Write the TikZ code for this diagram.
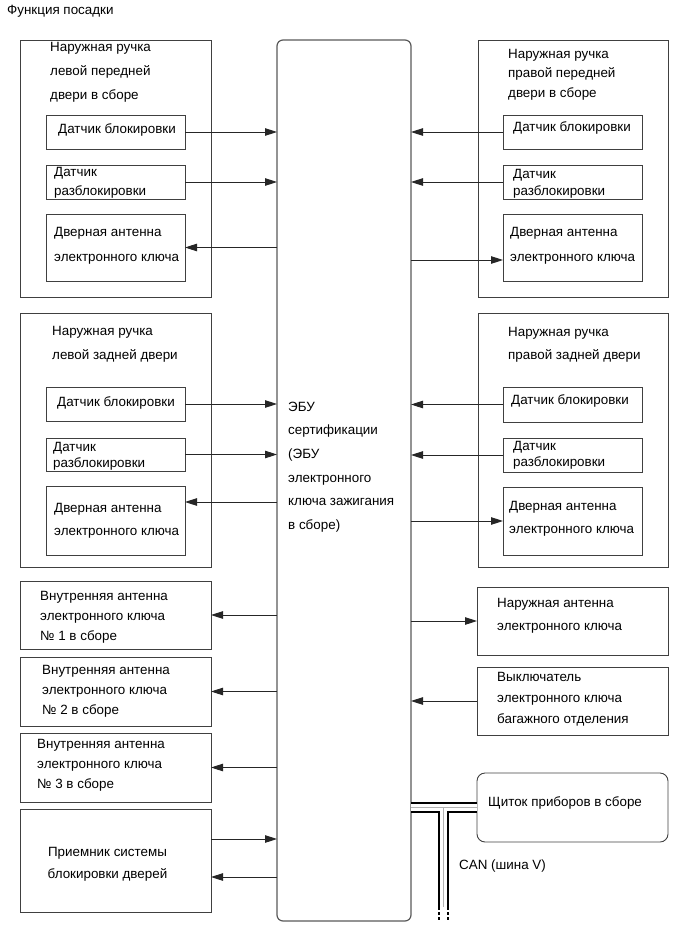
\documentclass[tikz,border=0pt]{standalone}
\usepackage{fontspec}
\setmainfont{Liberation Sans}
\usetikzlibrary{arrows.meta}

\begin{document}
\begin{tikzpicture}[x=1pt,y=-1pt,
    box/.style={draw=black!75,line width=0.9pt,inner sep=0,outer sep=0},
    lbl/.style={anchor=west,align=left,inner sep=0,font=\fontsize{13.4}{#1}\selectfont},
    lbl/.default=20,
    arr/.style={draw=black!85,line width=0.9pt,-{Triangle[length=12pt,width=7.5pt]}},
    can/.style={line width=2pt,double=white,double distance=7pt}]
        \useasboundingbox (0,0) rectangle (689,950);

        % Title
        \node[lbl] (title) at (7,11) {Функция посадки};

        % ECU
        \node[box,draw=black!65,line width=1.2pt,rounded corners=6pt,minimum width=134,minimum height=881] (ecu) at (344,480.5) {};
        \node[lbl=23.6] (t_ecu) at (288,467) {ЭБУ\\сертификации\\(ЭБУ\\электронного\\ключа зажигания\\в сборе)};

        % Left front door handle
        \node[box,minimum width=191,minimum height=257] (lfront) at (115.5,168.5) {};
        \node[box,minimum width=139,minimum height=34] (lf_lock) at (115.5,132) {};
        \node[box,minimum width=139,minimum height=34] (lf_unlock) at (115.5,182) {};
        \node[box,minimum width=139,minimum height=67] (lf_ant) at (115.5,247.5) {};
        \node[lbl=24] (t_lfront) at (50,72) {Наружная ручка\\левой передней\\двери в сборе};
        \node[lbl] (t_lf_lock) at (58,130) {Датчик блокировки};
        \node[lbl=19] (t_lf_unlock) at (54,182.5) {Датчик\\разблокировки};
        \node[lbl=25] (t_lf_ant) at (54,245.5) {Дверная антенна\\электронного ключа};

        % Right front door handle
        \node[box,minimum width=190,minimum height=257] (rfront) at (573,168.5) {};
        \node[box,minimum width=139,minimum height=34] (rf_lock) at (572.5,132) {};
        \node[box,minimum width=139,minimum height=34] (rf_unlock) at (572.5,182) {};
        \node[box,minimum width=139,minimum height=67] (rf_ant) at (572.5,247.5) {};
        \node[lbl=19.5] (t_rfront) at (508,74.5) {Наружная ручка\\правой передней\\двери в сборе};
        \node[lbl] (t_rf_lock) at (513,128) {Датчик блокировки};
        \node[lbl=17] (t_rf_unlock) at (513,183.5) {Датчик\\разблокировки};
        \node[lbl=25] (t_rf_ant) at (510,245.5) {Дверная антенна\\электронного ключа};

        % Left rear door handle
        \node[box,minimum width=191,minimum height=254] (lrear) at (115.5,440) {};
        \node[box,minimum width=139,minimum height=34] (lr_lock) at (115.5,404) {};
        \node[box,minimum width=139,minimum height=33] (lr_unlock) at (115.5,454.5) {};
        \node[box,minimum width=139,minimum height=69] (lr_ant) at (115.5,520.5) {};
        \node[lbl=24] (t_lrear) at (52,344) {Наружная ручка\\левой задней двери};
        \node[lbl] (t_lr_lock) at (57,403) {Датчик блокировки};
        \node[lbl=16] (t_lr_unlock) at (53,456) {Датчик\\разблокировки};
        \node[lbl=23] (t_lr_ant) at (54,520.5) {Дверная антенна\\электронного ключа};

        % Right rear door handle
        \node[box,minimum width=190,minimum height=254] (rrear) at (573,440) {};
        \node[box,minimum width=139,minimum height=35] (rr_lock) at (572.5,404.5) {};
        \node[box,minimum width=139,minimum height=34] (rr_unlock) at (572.5,455) {};
        \node[box,minimum width=139,minimum height=68] (rr_ant) at (572.5,521) {};
        \node[lbl=23] (t_rrear) at (508,344.5) {Наружная ручка\\правой задней двери};
        \node[lbl] (t_rr_lock) at (511,401) {Датчик блокировки};
        \node[lbl=16] (t_rr_unlock) at (513,455) {Датчик\\разблокировки};
        \node[lbl=23] (t_rr_ant) at (509,518.5) {Дверная антенна\\электронного ключа};

        % Inside antennas and receiver
        \node[box,minimum width=191,minimum height=68] (ant1) at (115.5,615) {};
        \node[box,minimum width=191,minimum height=69] (ant2) at (115.5,691.5) {};
        \node[box,minimum width=191,minimum height=69] (ant3) at (115.5,767.5) {};
        \node[box,minimum width=191,minimum height=103] (rx) at (115.5,860.5) {};
        \node[lbl] (t_ant1) at (40,617) {Внутренняя антенна\\электронного ключа\\№ 1 в сборе};
        \node[lbl] (t_ant2) at (42,691) {Внутренняя антенна\\электронного ключа\\№ 2 в сборе};
        \node[lbl] (t_ant3) at (37,765) {Внутренняя антенна\\электронного ключа\\№ 3 в сборе};
        \node[lbl=22,anchor=center,align=center] (t_rx) at (107.5,864) {Приемник системы\\блокировки дверей};

        % Outside antenna, trunk switch, meter
        \node[box,minimum width=191,minimum height=68] (extant) at (572.5,621) {};
        \node[box,minimum width=191,minimum height=68] (trunk) at (572.5,701) {};
        \node[box,rounded corners=8pt,minimum width=191,minimum height=69] (meter) at (572.5,807.5) {};
        \node[lbl=23] (t_extant) at (497,615.5) {Наружная антенна\\электронного ключа};
        \node[lbl=21] (t_trunk) at (497,699) {Выключатель\\электронного ключа\\багажного отделения};
        \node[lbl] (t_meter) at (488,803) {Щиток приборов в сборе};

        % Shifted arrow ends
        \coordinate (rf_ant_in) at ([yshift=-12.5]rf_ant.west);
        \coordinate (lr_ant_in) at ([yshift=18.5]lr_ant.east);
        \coordinate (rx_out) at ([yshift=21.5]rx.east);
        \coordinate (rx_in) at ([yshift=-16.5]rx.east);

        % Arrows, left side
        \draw[arr] (lf_lock.east) -- (lf_lock.east -| ecu.west);
        \draw[arr] (lf_unlock.east) -- (lf_unlock.east -| ecu.west);
        \draw[arr] (lf_ant.east -| ecu.west) -- (lf_ant.east);
        \draw[arr] (lr_lock.east) -- (lr_lock.east -| ecu.west);
        \draw[arr] (lr_unlock.east) -- (lr_unlock.east -| ecu.west);
        \draw[arr] (lr_ant_in -| ecu.west) -- (lr_ant_in);
        \draw[arr] (ant1.east -| ecu.west) -- (ant1.east);
        \draw[arr] (ant2.east -| ecu.west) -- (ant2.east);
        \draw[arr] (ant3.east -| ecu.west) -- (ant3.east);
        \draw[arr] (rx_out) -- (rx_out -| ecu.west);
        \draw[arr] (rx_in -| ecu.west) -- (rx_in);

        % Arrows, right side
        \draw[arr] (rf_lock.west) -- (rf_lock.west -| ecu.east);
        \draw[arr] (rf_unlock.west) -- (rf_unlock.west -| ecu.east);
        \draw[arr] (rf_ant_in -| ecu.east) -- (rf_ant_in);
        \draw[arr] (rr_lock.west) -- (rr_lock.west -| ecu.east);
        \draw[arr] (rr_unlock.west) -- (rr_unlock.west -| ecu.east);
        \draw[arr] (rr_ant.west -| ecu.east) -- (rr_ant.west);
        \draw[arr] (extant.west -| ecu.east) -- (extant.west);
        \draw[arr] (trunk.west) -- (trunk.west -| ecu.east);

        % CAN bus
        \coordinate (can_t) at (443,811);
        \coordinate (can_end) at (443,907);
        \coordinate (can_tail) at (443,920);
        \draw[can] (meter.west -| ecu.east) -- (meter.west);
        \draw[can] (can_t) -- (can_end);
        \draw[can,dash pattern=on 2.5pt off 2.5pt] (can_end) -- (can_tail);
        \draw[gray!60,line width=0.5pt] (meter.west -| ecu.east) -- (meter.west);
        \draw[gray!60,line width=0.5pt] (443,807.5) -- (can_end);
        \node[lbl] (t_can) at (459,866) {CAN (шина V)};
\end{tikzpicture}
\end{document}
